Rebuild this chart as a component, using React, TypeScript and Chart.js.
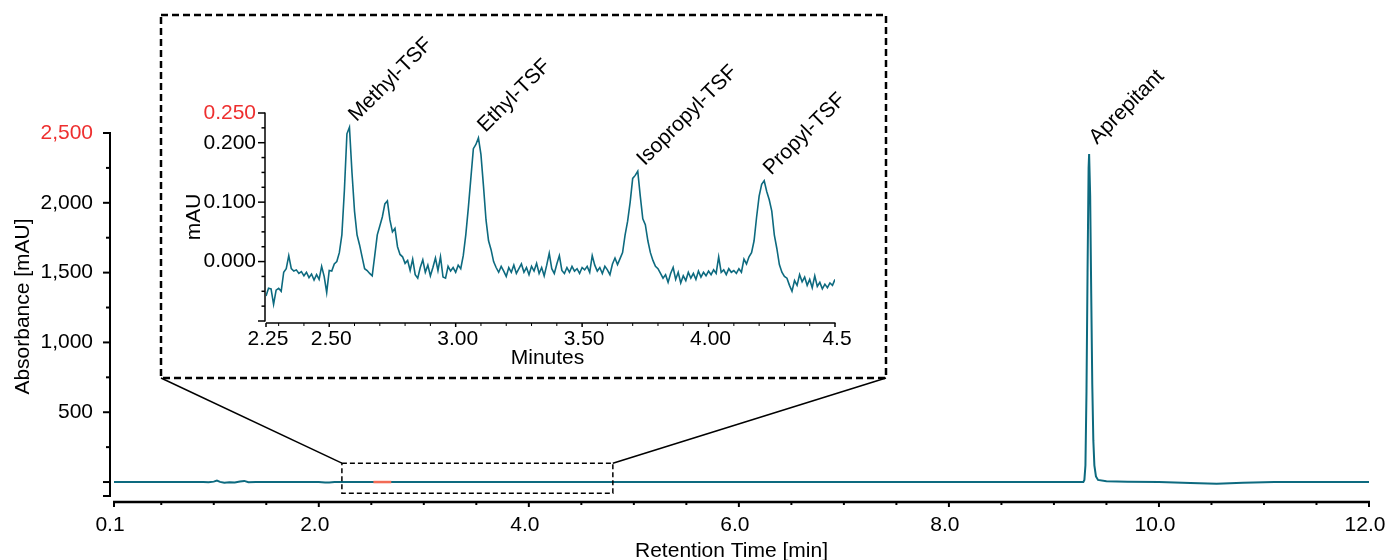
import React, { useEffect, useRef } from "react";
import { Chart, registerables } from "chart.js";

Chart.register(...registerables);

const FONT = '"Liberation Sans", Arial, Helvetica, sans-serif';
const TEAL = "#0d6a7f";
const RED = "#ee2f2f";
const HILITE = "#f26b55";

// ---------- main chromatogram (Retention Time [min] vs mAU) ----------
const MAIN_TIMES = [
  0.05, 0.9, 0.95, 1.0, 1.03, 1.06, 1.1, 1.15, 1.2, 1.25, 1.29, 1.33, 1.4,
  2.0, 2.06, 2.1, 2.15, 2.5, 5.0, 7.5, 8.0, 9.0, 9.28, 9.29, 9.3, 9.31, 9.32,
  9.33, 9.335, 9.345, 9.355, 9.365, 9.375, 9.385, 9.4, 9.42, 9.5, 9.7, 10.0,
  10.3, 10.55, 10.8, 11.1, 12.0,
];
const MAIN_VALUES = [
  0, 0, -2, 3, 10, 1, -5, -2, -4, 4, 8, -2, 0,
  0, -3, -4, 0, 0, 0, 0, 0, 0, 0, 15, 120, 650, 1500,
  2250, 2350, 2050, 1350, 700, 300, 120, 40, 15, 6, 2, 0,
  -6, -12, -5, 0, 0,
];
const HILITE_TIMES = [2.52, 2.69];
const HILITE_VALUES = [0, 0];

const MAIN_X_MIN = 0.05;
const MAIN_X_MAX = 12;
const MAIN_Y_MIN = -100;
const MAIN_Y_MAX = 2500;
const MAIN_X_TICKS = [0.05, 2, 4, 6, 8, 10, 12];
const MAIN_X_LABELS = ["0.1", "2.0", "4.0", "6.0", "8.0", "10.0", "12.0"];
const MAIN_X_MINOR = [0.5, 1, 1.5, 2.5, 3, 3.5, 4.5, 5, 5.5, 6.5, 7, 7.5, 8.5, 9, 9.5, 10.5, 11, 11.5];
const MAIN_Y_TICKS = [0, 500, 1000, 1500, 2000, 2500];
const MAIN_Y_LABELS = ["", "500", "1,000", "1,500", "2,000", "2,500"];
const MAIN_Y_MINOR = [250, 750, 1250, 1750, 2250];

const MAIN_PEAK_NAME = "Aprepitant";
const MAIN_PEAK_TIME = 9.335;
const MAIN_PEAK_VALUE = 2350;

// dashed zoom region on the main chart (data units)
const ZOOM_TIMES = [2.22, 4.8];
const ZOOM_VALUES = [-80, 135];

// ---------- inset (Minutes vs mAU) ----------
const INSET_START = 2.25;
const INSET_STEP = 0.01;
const INSET_VALUES = [
  // 2.25–2.29
  -0.058, -0.045, -0.046, -0.072, -0.048,
  // 2.30–2.39
  -0.045, -0.05, -0.018, -0.012, 0.01, -0.012, -0.016, -0.014, -0.02, -0.017,
  // 2.40–2.49
  -0.024, -0.018, -0.027, -0.021, -0.031, -0.022, -0.03, -0.008, -0.025, -0.052,
  // 2.50–2.59
  -0.015, -0.016, -0.004, 0.0, 0.015, 0.045, 0.12, 0.215, 0.226, 0.15,
  // 2.60–2.69
  0.085, 0.045, 0.028, 0.008, -0.012, -0.015, -0.02, -0.024, 0.01, 0.045,
  // 2.70–2.79
  0.06, 0.075, 0.097, 0.102, 0.07, 0.05, 0.056, 0.025, 0.012, 0.008,
  // 2.80–2.89
  -0.003, 0.002, -0.015, 0.004, -0.022, -0.028, -0.01, 0.003, -0.018, -0.006,
  // 2.90–2.99
  -0.024, -0.01, 0.006, -0.015, 0.008, -0.026, -0.028, -0.008, -0.016, -0.01,
  // 3.00–3.09
  -0.018, -0.006, -0.012, 0.01, 0.045, 0.09, 0.14, 0.19, 0.197, 0.208,
  // 3.10–3.19
  0.18, 0.127, 0.07, 0.035, 0.02, 0.0, -0.01, -0.018, -0.008, -0.016,
  // 3.20–3.29
  -0.025, -0.01, -0.018, -0.006, -0.02, -0.012, -0.004, -0.018, -0.01, -0.022,
  // 3.30–3.39
  -0.008, -0.016, -0.003, -0.02, -0.01, -0.024, -0.006, 0.014, -0.012, -0.02,
  // 3.40–3.49
  -0.004, 0.01, -0.015, -0.02, -0.01, -0.018, -0.008, -0.016, -0.012, -0.02,
  // 3.50–3.59
  -0.01, -0.014, -0.008, -0.018, 0.01, -0.006, -0.016, -0.01, -0.02, -0.008,
  // 3.60–3.69
  -0.014, -0.022, -0.004, 0.006, -0.005, 0.005, 0.015, 0.045, 0.068, 0.1,
  // 3.70–3.79
  0.14, 0.145, 0.152, 0.11, 0.072, 0.062, 0.035, 0.015, 0.002, -0.008,
  // 3.80–3.89
  -0.012, -0.02, -0.028, -0.022, -0.035, -0.02, -0.01, -0.03, -0.018, -0.036,
  // 3.90–3.99
  -0.024, -0.032, -0.018, -0.028, -0.02, -0.03, -0.016, -0.026, -0.018, -0.024,
  // 4.00–4.09
  -0.016, -0.022, -0.014, -0.02, 0.008, -0.018, -0.014, -0.022, -0.012, -0.018,
  // 4.10–4.19
  -0.015, -0.02, -0.012, -0.018, 0.004, -0.004, 0.008, 0.015, 0.035, 0.075,
  // 4.20–4.29
  0.11, 0.13, 0.136, 0.118, 0.104, 0.085, 0.045, 0.022, -0.005, -0.018,
  // 4.30–4.39
  -0.025, -0.028, -0.04, -0.05, -0.032, -0.04, -0.022, -0.034, -0.026, -0.04,
  // 4.40–4.49
  -0.03, -0.044, -0.024, -0.042, -0.035, -0.046, -0.038, -0.044, -0.036, -0.04,
  // 4.50
  -0.03,
];

const INSET_X_MIN = 2.25;
const INSET_X_MAX = 4.5;
const INSET_Y_MIN = -0.1;
const INSET_Y_MAX = 0.25;
const INSET_X_TICKS = [2.25, 2.5, 3.0, 3.5, 4.0, 4.5];
const INSET_X_LABELS = ["2.25", "2.50", "3.00", "3.50", "4.00", "4.5"];
const INSET_X_MINOR = [2.3, 2.4, 2.6, 2.7, 2.8, 2.9, 3.1, 3.2, 3.3, 3.4, 3.6, 3.7, 3.8, 3.9, 4.1, 4.2, 4.3, 4.4];
const INSET_Y_TICKS = [0, 0.1, 0.2, 0.25];
const INSET_Y_LABELS = ["0.000", "0.100", "0.200", "0.250"];
const INSET_Y_MINOR = [-0.075, -0.05, -0.025, 0.025, 0.05, 0.075, 0.125, 0.15, 0.175, 0.225];

const INSET_PEAK_NAMES = ["Methyl-TSF", "Ethyl-TSF", "Isopropyl-TSF", "Propyl-TSF"];
const INSET_PEAK_TIMES = [2.58, 3.09, 3.72, 4.22];
const INSET_PEAK_VALUES = [0.226, 0.208, 0.152, 0.136];

// page layout of the inset frame
const FRAME = { left: 161, top: 15, right: 886, bottom: 378 };
const INSET_POS = { left: 164, top: 18, width: 720, height: 357 };

function seg(ctx: CanvasRenderingContext2D, x1: number, y1: number, x2: number, y2: number) {
  ctx.beginPath();
  ctx.moveTo(x1, y1);
  ctx.lineTo(x2, y2);
  ctx.stroke();
}

function rotatedLabel(ctx: CanvasRenderingContext2D, text: string, x: number, y: number) {
  ctx.save();
  ctx.translate(x, y);
  ctx.rotate(-Math.PI / 4);
  ctx.textAlign = "left";
  ctx.textBaseline = "alphabetic";
  ctx.fillStyle = "#000";
  ctx.fillText(text, 0, 0);
  ctx.restore();
}

const mainDecor = {
  id: "mainDecor",
  afterDraw(chart: any) {
    const ctx: CanvasRenderingContext2D = chart.ctx;
    const xs = chart.scales.x;
    const ys = chart.scales.y;
    const area = chart.chartArea;
    ctx.save();
    ctx.strokeStyle = "#000";
    ctx.fillStyle = "#000";
    ctx.lineCap = "butt";

    // Y axis
    const ax = area.left - 4;
    ctx.lineWidth = 2;
    seg(ctx, ax, ys.getPixelForValue(MAIN_Y_MAX) - 1, ax, ys.getPixelForValue(MAIN_Y_MIN) + 1);
    [...MAIN_Y_TICKS, MAIN_Y_MIN].forEach((v) => {
      const py = ys.getPixelForValue(v);
      seg(ctx, ax - 7, py, ax, py);
    });
    MAIN_Y_MINOR.forEach((v) => {
      const py = ys.getPixelForValue(v);
      seg(ctx, ax - 4, py, ax, py);
    });
    ctx.font = `21px ${FONT}`;
    ctx.textAlign = "right";
    ctx.textBaseline = "middle";
    MAIN_Y_TICKS.forEach((v, i) => {
      ctx.fillStyle = v === MAIN_Y_MAX ? RED : "#000";
      ctx.fillText(MAIN_Y_LABELS[i], ax - 17, ys.getPixelForValue(v));
    });

    // Y title
    ctx.save();
    ctx.fillStyle = "#000";
    ctx.translate(23, (area.top + area.bottom) / 2 - 8);
    ctx.rotate(-Math.PI / 2);
    ctx.textAlign = "center";
    ctx.textBaseline = "middle";
    ctx.fillText("Absorbance [mAU]", 0, 0);
    ctx.restore();

    // X axis
    const axY = area.bottom + 6;
    ctx.lineWidth = 2.5;
    seg(ctx, xs.getPixelForValue(MAIN_X_MIN) - 1, axY, xs.getPixelForValue(MAIN_X_MAX) + 1, axY);
    ctx.lineWidth = 2;
    MAIN_X_TICKS.forEach((v) => {
      const px = xs.getPixelForValue(v);
      seg(ctx, px, axY, px, axY + 5);
    });
    MAIN_X_MINOR.forEach((v) => {
      const px = xs.getPixelForValue(v);
      seg(ctx, px, axY, px, axY + 3);
    });
    ctx.fillStyle = "#000";
    ctx.textAlign = "center";
    ctx.textBaseline = "middle";
    MAIN_X_TICKS.forEach((v, i) => {
      ctx.fillText(MAIN_X_LABELS[i], xs.getPixelForValue(v) - 4, axY + 23);
    });
    ctx.fillText("Retention Time [min]", (area.left + area.right) / 2 - 10, axY + 49);

    // zoom box
    const zx0 = xs.getPixelForValue(ZOOM_TIMES[0]);
    const zx1 = xs.getPixelForValue(ZOOM_TIMES[1]);
    const zy0 = ys.getPixelForValue(ZOOM_VALUES[1]);
    const zy1 = ys.getPixelForValue(ZOOM_VALUES[0]);
    ctx.lineWidth = 1.5;
    ctx.setLineDash([5, 3]);
    ctx.strokeRect(zx0, zy0, zx1 - zx0, zy1 - zy0);

    // inset frame
    ctx.lineWidth = 2.5;
    ctx.setLineDash([7, 4]);
    ctx.strokeRect(FRAME.left, FRAME.top, FRAME.right - FRAME.left, FRAME.bottom - FRAME.top);
    ctx.setLineDash([]);

    // connectors
    ctx.lineWidth = 1.5;
    seg(ctx, FRAME.left, FRAME.bottom, zx0, zy0);
    seg(ctx, FRAME.right, FRAME.bottom, zx1, zy0);

    // peak label
    ctx.font = `21px ${FONT}`;
    rotatedLabel(
      ctx,
      MAIN_PEAK_NAME,
      xs.getPixelForValue(MAIN_PEAK_TIME) + 8,
      ys.getPixelForValue(MAIN_PEAK_VALUE) - 9
    );
    ctx.restore();
  },
};

const insetDecor = {
  id: "insetDecor",
  afterDraw(chart: any) {
    const ctx: CanvasRenderingContext2D = chart.ctx;
    const xs = chart.scales.x;
    const ys = chart.scales.y;
    const area = chart.chartArea;
    ctx.save();
    ctx.strokeStyle = "#000";
    ctx.fillStyle = "#000";

    // Y axis
    const ax = area.left - 1;
    ctx.lineWidth = 1.5;
    seg(ctx, ax, ys.getPixelForValue(INSET_Y_MAX) - 0.5, ax, ys.getPixelForValue(INSET_Y_MIN) + 0.5);
    [...INSET_Y_TICKS, INSET_Y_MIN].forEach((v) => {
      const py = ys.getPixelForValue(v);
      seg(ctx, ax - 7, py, ax, py);
    });
    INSET_Y_MINOR.forEach((v) => {
      const py = ys.getPixelForValue(v);
      seg(ctx, ax - 3.5, py, ax, py);
    });
    ctx.font = `21px ${FONT}`;
    ctx.textAlign = "right";
    ctx.textBaseline = "middle";
    INSET_Y_TICKS.forEach((v, i) => {
      ctx.fillStyle = v === INSET_Y_MAX ? RED : "#000";
      ctx.fillText(INSET_Y_LABELS[i], ax - 9, ys.getPixelForValue(v));
    });
    ctx.save();
    ctx.fillStyle = "#000";
    ctx.translate(area.left - 72, (area.top + area.bottom) / 2);
    ctx.rotate(-Math.PI / 2);
    ctx.textAlign = "center";
    ctx.textBaseline = "middle";
    ctx.fillText("mAU", 0, 0);
    ctx.restore();

    // X axis
    const axY = area.bottom + 2;
    ctx.lineWidth = 1.5;
    seg(ctx, xs.getPixelForValue(INSET_X_MIN), axY, xs.getPixelForValue(INSET_X_MAX) + 0.5, axY);
    INSET_X_TICKS.forEach((v) => {
      const px = xs.getPixelForValue(v);
      seg(ctx, px, axY, px, axY + 4);
    });
    ctx.lineWidth = 1;
    INSET_X_MINOR.forEach((v) => {
      const px = xs.getPixelForValue(v);
      seg(ctx, px, axY, px, axY + 3);
    });
    ctx.fillStyle = "#000";
    ctx.textAlign = "center";
    ctx.textBaseline = "middle";
    INSET_X_TICKS.forEach((v, i) => {
      ctx.fillText(INSET_X_LABELS[i], xs.getPixelForValue(v) + 2, axY + 16);
    });
    ctx.fillText("Minutes", (area.left + area.right) / 2 - 3, axY + 35);

    // peak labels
    INSET_PEAK_NAMES.forEach((name, i) => {
      rotatedLabel(
        ctx,
        name,
        xs.getPixelForValue(INSET_PEAK_TIMES[i]) + 7,
        ys.getPixelForValue(INSET_PEAK_VALUES[i]) - 5
      );
    });
    ctx.restore();
  },
};

export default function App() {
  const mainRef = useRef<HTMLCanvasElement>(null);
  const insetRef = useRef<HTMLCanvasElement>(null);

  useEffect(() => {
    const mainChart = new Chart(mainRef.current as HTMLCanvasElement, {
      type: "line",
      data: {
        datasets: [
          {
            data: HILITE_TIMES.map((t, i) => ({ x: t, y: HILITE_VALUES[i] })),
            borderColor: HILITE,
            borderWidth: 2.5,
            pointRadius: 0,
            tension: 0,
          },
          {
            data: MAIN_TIMES.map((t, i) => ({ x: t, y: MAIN_VALUES[i] })),
            borderColor: TEAL,
            borderWidth: 2,
            pointRadius: 0,
            tension: 0,
          },
        ],
      },
      options: {
        responsive: false,
        animation: false,
        devicePixelRatio: 1,
        events: [],
        layout: { padding: { left: 114, right: 20, top: 133, bottom: 64 } },
        scales: {
          x: { type: "linear", min: MAIN_X_MIN, max: MAIN_X_MAX, display: false },
          y: { type: "linear", min: MAIN_Y_MIN, max: MAIN_Y_MAX, display: false },
        },
        plugins: { legend: { display: false }, tooltip: { enabled: false } },
      },
      plugins: [mainDecor],
    } as any);

    const insetChart = new Chart(insetRef.current as HTMLCanvasElement, {
      type: "line",
      data: {
        datasets: [
          {
            data: INSET_VALUES.map((v, i) => ({ x: INSET_START + i * INSET_STEP, y: v })),
            borderColor: TEAL,
            borderWidth: 1.6,
            pointRadius: 0,
            tension: 0,
          },
        ],
      },
      options: {
        responsive: false,
        animation: false,
        devicePixelRatio: 1,
        events: [],
        layout: { padding: { left: 102, right: 49, top: 95, bottom: 54 } },
        scales: {
          x: { type: "linear", min: INSET_X_MIN, max: INSET_X_MAX, display: false },
          y: { type: "linear", min: INSET_Y_MIN, max: INSET_Y_MAX, display: false },
        },
        plugins: { legend: { display: false }, tooltip: { enabled: false } },
      },
      plugins: [insetDecor],
    } as any);

    return () => {
      mainChart.destroy();
      insetChart.destroy();
    };
  }, []);

  return (
    <div
      style={{
        position: "absolute",
        left: 0,
        top: 0,
        width: 1389,
        height: 560,
        background: "#fff",
        overflow: "hidden",
      }}
    >
      <canvas
        ref={mainRef}
        width={1389}
        height={560}
        style={{ position: "absolute", left: 0, top: 0, width: 1389, height: 560 }}
      />
      <canvas
        ref={insetRef}
        width={INSET_POS.width}
        height={INSET_POS.height}
        style={{
          position: "absolute",
          left: INSET_POS.left,
          top: INSET_POS.top,
          width: INSET_POS.width,
          height: INSET_POS.height,
        }}
      />
    </div>
  );
}
